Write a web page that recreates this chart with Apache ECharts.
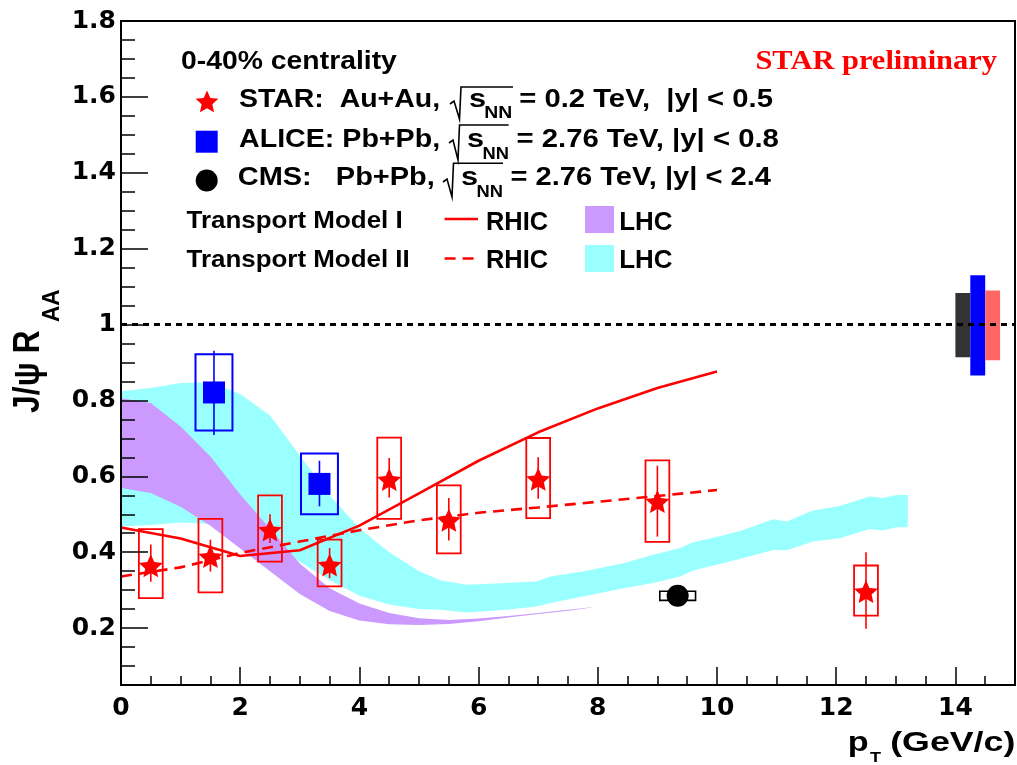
<!DOCTYPE html>
<html><head><meta charset="utf-8">
<script src="https://cdn.jsdelivr.net/npm/echarts@6/dist/echarts.min.js"></script>
<style>html,body{margin:0;padding:0;background:#fff;}#c{width:1017px;height:765px;}</style>
</head><body><div id="c"></div>
<script>
// ---------------- data ----------------
const xMajor = [0, 2, 4, 6, 8, 10, 12, 14];
const xTickLabels = ['0', '2', '4', '6', '8', '10', '12', '14'];
const yMajor = [0.2, 0.4, 0.6, 0.8, 1.0, 1.2, 1.4, 1.6, 1.8];
const yTickLabels = ['0.2', '0.4', '0.6', '0.8', '1', '1.2', '1.4', '1.6', '1.8'];

// STAR Au+Au 200 GeV
const starPt     = [0.5, 1.5, 2.5, 3.5, 4.5, 5.5, 7.0, 9.0, 12.5];
const starRaa    = [0.367, 0.391, 0.461, 0.369, 0.594, 0.487, 0.595, 0.536, 0.299];
const starStatLo = [0.322, 0.349, 0.424, 0.332, 0.544, 0.431, 0.541, 0.441, 0.198];
const starStatHi = [0.420, 0.433, 0.500, 0.411, 0.648, 0.543, 0.650, 0.628, 0.400];
const starSysLo  = [0.279, 0.294, 0.375, 0.310, 0.488, 0.397, 0.490, 0.427, 0.233];
const starSysHi  = [0.461, 0.488, 0.550, 0.433, 0.702, 0.576, 0.701, 0.642, 0.365];
const starPtHalfWidth = 0.2;

// ALICE Pb+Pb 2.76 TeV
const alicePt     = [1.56, 3.33];
const aliceRaa    = [0.821, 0.580];
const aliceStatLo = [0.709, 0.521];
const aliceStatHi = [0.931, 0.641];
const aliceSysLo  = [0.721, 0.500];
const aliceSysHi  = [0.922, 0.660];
const alicePtHalfWidth = 0.31;

// CMS Pb+Pb 2.76 TeV
const cmsPt     = [9.34];
const cmsRaa    = [0.285];
const cmsStatLo = [0.285];
const cmsStatHi = [0.285];
const cmsSysLo  = [0.273];
const cmsSysHi  = [0.297];
const cmsPtHalfWidth = 0.3;

// Transport Model I, RHIC (solid) and Transport Model II, RHIC (dashed)
const rhicPt     = [0, 1, 2, 3, 4, 5, 6, 7, 8, 9, 10];
const model1Rhic = [0.465, 0.436, 0.390, 0.405, 0.470, 0.555, 0.641, 0.716, 0.779, 0.833, 0.876];
const model2Rhic = [0.336, 0.360, 0.398, 0.428, 0.458, 0.484, 0.504, 0.518, 0.533, 0.548, 0.564];

// Transport Model I, LHC band
const m1LhcPt    = [0, 0.5, 1.0, 1.5, 2.0, 2.5, 3.0, 3.5, 4.0, 4.5, 5.0, 5.5, 6.0, 6.5, 7.0, 7.5, 7.9];
const m1LhcUpper = [0.806, 0.793, 0.731, 0.652, 0.552, 0.462, 0.370, 0.305, 0.265, 0.240, 0.226, 0.221, 0.225, 0.232, 0.240, 0.248, 0.255];
const m1LhcLower = [0.569, 0.556, 0.520, 0.470, 0.410, 0.350, 0.290, 0.245, 0.220, 0.210, 0.208, 0.211, 0.218, 0.228, 0.237, 0.246, 0.254];

// Transport Model II, LHC band
const m2LhcPt    = [0, 0.5, 1.0, 1.5, 2.0, 2.5, 3.0, 3.5, 4.0, 4.5, 5.0, 5.36, 5.8, 6.47, 6.97, 7.2, 7.75, 8.43, 8.93, 9.38, 9.6, 9.99, 10.38, 10.94, 11.17, 11.61, 12.06, 12.56, 12.78, 13.01, 13.2];
const m2LhcUpper = [0.824, 0.833, 0.846, 0.848, 0.817, 0.760, 0.655, 0.550, 0.463, 0.400, 0.350, 0.326, 0.314, 0.319, 0.323, 0.336, 0.349, 0.371, 0.393, 0.411, 0.426, 0.440, 0.455, 0.487, 0.481, 0.510, 0.522, 0.547, 0.543, 0.551, 0.551];
const m2LhcLower = [0.468, 0.472, 0.478, 0.475, 0.450, 0.420, 0.375, 0.327, 0.285, 0.262, 0.250, 0.248, 0.241, 0.248, 0.257, 0.266, 0.283, 0.305, 0.319, 0.336, 0.352, 0.367, 0.382, 0.406, 0.405, 0.428, 0.437, 0.461, 0.457, 0.466, 0.466];

// global normalisation uncertainties around unity (CMS, ALICE, STAR)
const normX0 = [14.0, 14.25, 14.5];
const normX1 = [14.25, 14.5, 14.75];
const normLo = [0.914, 0.866, 0.906];
const normHi = [1.083, 1.130, 1.090];
const unityLevel = 1;

// ---------------- helpers ----------------
const RED = '#ff0000', BLUE = '#0000ff', CYAN = '#99ffff', PURPLE = '#cc99ff';
const normColors = ['#333333', '#0000ff', '#ff6666'];
const STAR_INNER = 0.47;

function starPathPoints(cx, cy, R, r) {
  const pts = [];
  for (let k = 0; k < 10; k++) {
    const a = -Math.PI / 2 + k * Math.PI / 5;
    const rad = (k % 2) ? r : R;
    pts.push([cx + rad * Math.cos(a), cy + rad * Math.sin(a)]);
  }
  return pts;
}
const starSym = 'path://' + starPathPoints(100, 100, 100, 100 * STAR_INNER)
  .map((p, i) => (i ? 'L' : 'M') + p[0].toFixed(2) + ' ' + p[1].toFixed(2)).join(' ') + ' Z';

const mctx = document.createElement('canvas').getContext('2d');
function fitText(str, x0, x1, baseline, size, opt) {
  opt = opt || {};
  const family = opt.family || '"Liberation Sans", Arial, sans-serif';
  const font = 'bold ' + size + 'px ' + family;
  mctx.font = font;
  const m = mctx.measureText(str);
  const inkW = m.actualBoundingBoxLeft + m.actualBoundingBoxRight;
  const s = (x1 - x0) / inkW;
  return {
    type: 'text', x: x0 + m.actualBoundingBoxLeft * s, y: baseline - 0.345 * size,
    scaleX: s, z: 100, silent: true,
    style: { text: str, font: font, fill: opt.color || '#000', align: 'left', verticalAlign: 'middle' }
  };
}
function fitRot(str, yStart, yEnd, xCapTop, size, sPerp) {
  const font = 'bold ' + size + 'px "Liberation Sans", Arial, sans-serif';
  mctx.font = font;
  const m = mctx.measureText(str);
  const inkW = m.actualBoundingBoxLeft + m.actualBoundingBoxRight;
  const sAlong = (yStart - yEnd) / inkW;
  return {
    type: 'text', x: xCapTop + 0.371 * size * sPerp, y: yStart - m.actualBoundingBoxLeft * sAlong,
    rotation: Math.PI / 2, scaleX: sAlong, scaleY: sPerp, z: 100, silent: true,
    style: { text: str, font: font, fill: '#000', align: 'left', verticalAlign: 'middle' }
  };
}
function bandSeries(xs, up, lo, color, z) {
  return {
    type: 'custom', z: z, silent: true, data: [[xs[0], up[0]]],
    renderItem: function (params, api) {
      const pts = [];
      for (let i = 0; i < xs.length; i++) pts.push(api.coord([xs[i], up[i]]));
      for (let i = xs.length - 1; i >= 0; i--) pts.push(api.coord([xs[i], lo[i]]));
      return { type: 'polygon', shape: { points: pts }, style: { fill: color, stroke: null } };
    }
  };
}
function errSeries(pt, val, sLo, sHi, eLo, eHi, hw, color, boxW, z) {
  return {
    type: 'custom', z: z, silent: true,
    data: pt.map((x, i) => [x, val[i], sLo[i], sHi[i], eLo[i], eHi[i]]),
    encode: { x: 0, y: 1 },
    renderItem: function (params, api) {
      const x = api.value(0);
      const a = api.coord([x - hw, api.value(3)]);
      const b = api.coord([x + hw, api.value(2)]);
      const e1 = api.coord([x, api.value(4)]);
      const e2 = api.coord([x, api.value(5)]);
      return {
        type: 'group', children: [
          { type: 'rect', shape: { x: a[0], y: a[1], width: b[0] - a[0], height: b[1] - a[1] },
            style: { fill: 'none', stroke: color, lineWidth: boxW } },
          { type: 'line', shape: { x1: e1[0], y1: e1[1], x2: e2[0], y2: e2[1] },
            style: { stroke: color, lineWidth: 1.6 } }
        ]
      };
    }
  };
}
const zip = (a, b) => a.map((v, i) => [v, b[i]]);
const near = (a, b) => Math.abs(a - b) < 1e-6;

// ---------------- chart ----------------
const chart = echarts.init(document.getElementById('c'), null, { renderer: 'canvas', width: 1017, height: 765 });
const tickFont = { fontFamily: '"DejaVu Sans", sans-serif', fontWeight: 'bold', fontSize: 25, color: '#000' };

const option = {
  animation: false,
  backgroundColor: '#ffffff',
  grid: { left: 121, right: 2, top: 21, bottom: 80, show: true, borderColor: '#000', borderWidth: 2 },
  xAxis: [
    { type: 'value', min: 0, max: 15, interval: 0.5, z: 10,
      axisLine: { show: true, onZero: false, lineStyle: { color: '#000', width: 2 } },
      axisTick: { show: true, inside: true, length: 9, lineStyle: { color: '#000', width: 1.5 } },
      axisLabel: Object.assign({ margin: 11, showMaxLabel: false,
        formatter: v => { const i = xMajor.findIndex(m => near(m, v)); return i >= 0 ? xTickLabels[i] : ''; } }, tickFont),
      splitLine: { show: false } },
    { type: 'value', min: 0, max: 15, position: 'bottom', z: 10,
      axisLine: { show: false },
      axisTick: { show: true, inside: true, length: 18, customValues: xMajor, lineStyle: { color: '#000', width: 1.5 } },
      axisLabel: { show: false }, splitLine: { show: false } }
  ],
  yAxis: [
    { type: 'value', min: 0.05, max: 1.8, interval: 0.05, z: 10,
      axisLine: { show: true, onZero: false, lineStyle: { color: '#000', width: 2 } },
      axisTick: { show: true, inside: true, length: 14, lineStyle: { color: '#000', width: 1.5 } },
      axisLabel: Object.assign({ margin: 5,
        formatter: v => { const i = yMajor.findIndex(m => near(m, v)); return i >= 0 ? yTickLabels[i] : ''; } }, tickFont),
      splitLine: { show: false } },
    { type: 'value', min: 0.05, max: 1.8, position: 'left', z: 10,
      axisLine: { show: false },
      axisTick: { show: true, inside: true, length: 27, customValues: yMajor, lineStyle: { color: '#000', width: 1.5 } },
      axisLabel: { show: false }, splitLine: { show: false } }
  ],
  series: [
    bandSeries(m2LhcPt, m2LhcUpper, m2LhcLower, CYAN, 1),
    bandSeries(m1LhcPt, m1LhcUpper, m1LhcLower, PURPLE, 2),
    { type: 'line', z: 3, silent: true, symbol: 'none', data: zip(rhicPt, model1Rhic),
      lineStyle: { color: RED, width: 2.6 },
      markLine: { silent: true, symbol: ['none', 'none'], label: { show: false },
        lineStyle: { color: '#000', width: 2.8, type: [6, 5] }, data: [{ yAxis: unityLevel }] } },
    { type: 'line', z: 3, silent: true, symbol: 'none', data: zip(rhicPt, model2Rhic),
      lineStyle: { color: RED, width: 2.6, type: [11, 7] } },
    { type: 'custom', z: 4, silent: true,
      data: normX0.map((x, i) => [x, normX1[i], normLo[i], normHi[i]]),
      encode: { x: 0, y: 2 },
      renderItem: function (params, api) {
        const a = api.coord([api.value(0), api.value(3)]);
        const b = api.coord([api.value(1), api.value(2)]);
        return { type: 'rect', shape: { x: a[0], y: a[1], width: b[0] - a[0], height: b[1] - a[1] },
          style: { fill: normColors[params.dataIndex] } };
      } },
    errSeries(starPt, starRaa, starSysLo, starSysHi, starStatLo, starStatHi, starPtHalfWidth, RED, 1.8, 5),
    errSeries(alicePt, aliceRaa, aliceSysLo, aliceSysHi, aliceStatLo, aliceStatHi, alicePtHalfWidth, BLUE, 2, 5),
    errSeries(cmsPt, cmsRaa, cmsSysLo, cmsSysHi, cmsStatLo, cmsStatHi, cmsPtHalfWidth, '#000', 1.6, 5),
    { type: 'scatter', z: 6, silent: true, data: zip(starPt, starRaa), symbol: starSym,
      symbolSize: [24, 23], symbolOffset: [0, 1], itemStyle: { color: RED, opacity: 1 } },
    { type: 'scatter', z: 6, silent: true, data: zip(alicePt, aliceRaa), symbol: 'rect',
      symbolSize: 22, itemStyle: { color: BLUE, opacity: 1 } },
    { type: 'scatter', z: 6, silent: true, data: zip(cmsPt, cmsRaa), symbol: 'circle',
      symbolSize: 22, itemStyle: { color: '#000', opacity: 1 } }
  ],
  graphic: [
    // legend header
    fitText('0-40% centrality', 181, 397, 71, 25),
    // STAR row
    { type: 'polygon', z: 100, silent: true, shape: { points: starPathPoints(207, 102.5, 12, 12 * STAR_INNER) }, style: { fill: RED } },
    fitText('STAR:  Au+Au,', 239, 439, 108.6, 25),
    { type: 'polyline', z: 100, silent: true, shape: { points: [[450, 104], [454, 101], [459.5, 119], [461, 87], [513, 87]] }, style: { stroke: '#000', lineWidth: 1.6, fill: null } },
    fitText('s', 469, 485, 108.6, 25),
    fitText('NN', 485.5, 512, 119, 17),
    fitText('= 0.2 TeV,  |y| < 0.5', 520.4, 773, 108.6, 25),
    // ALICE row
    { type: 'rect', z: 100, silent: true, shape: { x: 195.7, y: 130.7, width: 22, height: 22 }, style: { fill: BLUE } },
    fitText('ALICE: Pb+Pb,', 239, 439, 148.3, 25),
    { type: 'polyline', z: 100, silent: true, shape: { points: [[449, 143], [453, 140], [458, 160], [459.5, 125], [508.6, 125]] }, style: { stroke: '#000', lineWidth: 1.6, fill: null } },
    fitText('s', 467, 483, 148.3, 25),
    fitText('NN', 483.5, 508.6, 160, 17),
    fitText('= 2.76 TeV, |y| < 0.8', 517.6, 779, 148.3, 25),
    // CMS row
    { type: 'circle', z: 100, silent: true, shape: { cx: 206.7, cy: 180.5, r: 11 }, style: { fill: '#000' } },
    fitText('CMS:   Pb+Pb,', 239, 433.6, 187.2, 25),
    { type: 'polyline', z: 100, silent: true, shape: { points: [[443, 182], [447, 179], [452, 197], [453.5, 163.3], [503, 163.3]] }, style: { stroke: '#000', lineWidth: 1.6, fill: null } },
    fitText('s', 461, 477, 187.2, 25),
    fitText('NN', 477.5, 502.6, 198, 17),
    fitText('= 2.76 TeV, |y| < 2.4', 511.7, 771, 187.2, 25),
    // transport models
    fitText('Transport Model I', 186.5, 402, 230, 24),
    fitText('Transport Model II', 186.5, 409, 268.5, 24),
    { type: 'line', z: 100, silent: true, shape: { x1: 444.6, y1: 219, x2: 478, y2: 219 }, style: { stroke: RED, lineWidth: 2.6 } },
    { type: 'line', z: 100, silent: true, shape: { x1: 444.6, y1: 258.5, x2: 478, y2: 258.5 }, style: { stroke: RED, lineWidth: 2.6, lineDash: [11, 7] } },
    fitText('RHIC', 487, 548, 231.5, 25),
    fitText('RHIC', 487, 548, 270, 25),
    { type: 'rect', z: 100, silent: true, shape: { x: 585, y: 206, width: 29, height: 27 }, style: { fill: PURPLE } },
    { type: 'rect', z: 100, silent: true, shape: { x: 585, y: 245, width: 29, height: 27 }, style: { fill: CYAN } },
    fitText('LHC', 620.3, 672.4, 231.5, 25),
    fitText('LHC', 620.3, 672.4, 270, 25),
    // STAR preliminary
    fitText('STAR preliminary', 756.5, 997, 71.7, 28, { family: '"Liberation Serif", "Times New Roman", serif', color: RED }),
    // axis titles
    fitText('p', 849, 868, 752.7, 27),
    fitText('T', 870, 881.6, 763.3, 14),
    fitText('(GeV/c)', 891.5, 1014, 752.7, 27),
    fitRot('J/\u03c8 R', 413, 330, 15, 30, 1.25),
    fitRot('AA', 322, 290, 43, 20, 1.2)
  ]
};
chart.setOption(option);
</script>
</body></html>
